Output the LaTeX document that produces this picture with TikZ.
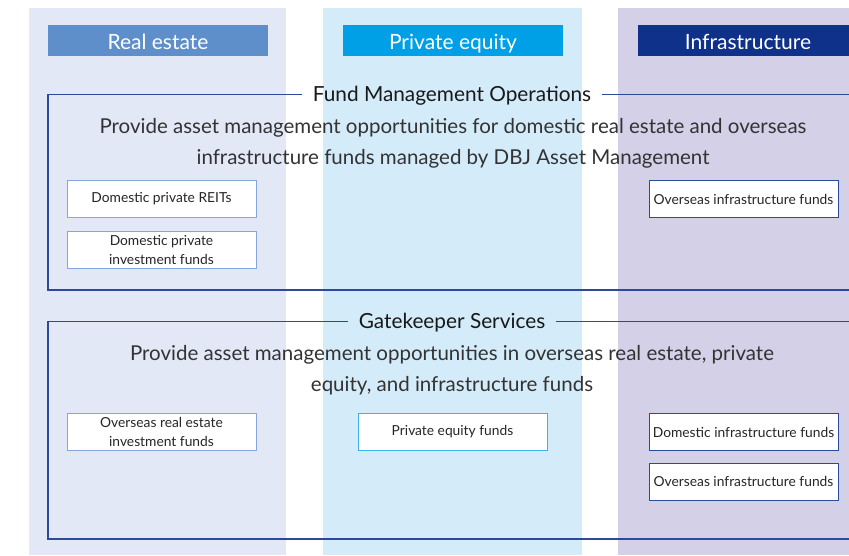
\documentclass[tikz,border=0pt]{standalone}
\usepackage{fontspec}
\setmainfont{Lato}
\usetikzlibrary{positioning}
\definecolor{realbg}{HTML}{E3E8F6}
\definecolor{equitybg}{HTML}{D4EBF9}
\definecolor{infrabg}{HTML}{D3D0E7}
\definecolor{realhead}{HTML}{5F8FCB}
\definecolor{equityhead}{HTML}{00A0E6}
\definecolor{infrahead}{HTML}{0F318A}
\definecolor{realline}{HTML}{84A8DC}
\definecolor{equityline}{HTML}{3FB0EA}
\definecolor{infraline}{HTML}{2E4A9C}
\definecolor{frameline}{HTML}{2C4A98}
\definecolor{bodytext}{HTML}{333333}

\begin{document}
\begin{tikzpicture}[x=1pt, y=-1pt, every node/.style={inner sep=0pt},
	header/.style={text=white, font=\fontsize{21}{24}\selectfont, minimum width=220pt, minimum height=31pt, text height=20pt, text depth=3pt},
	title/.style={text=black!90, font=\fontsize{20.8}{24}\selectfont, inner xsep=11pt, text height=15pt, text depth=2pt},
	body/.style={text=bodytext, align=center, font=\fontsize{20.5}{31}\selectfont},
	fundbox/.style={draw, fill=white, line width=0.9pt, minimum width=189pt, minimum height=37pt, align=center, text=black!85, font=\fontsize{13.8}{19}\selectfont},
	frame/.style={draw=frameline, line width=1.2pt}]

	\useasboundingbox (0,0) rectangle (849,555);

	\fill [realbg] (29,8) rectangle (286,555);
	\fill [equitybg] (323,8) rectangle (582,555);
	\fill [infrabg] (618,8) rectangle (849,555);

	\node [header, fill=realhead] (RE) at (158,40.5) {Real estate};
	\node [header, fill=equityhead] (PE) at (453,40.5) {Private equity};
	\node [header, fill=infrahead] (IN) at (748,40.5) {Infrastructure};

	\node [title] (FMO) at (452,94.5) {Fund Management Operations};
	\draw [frame] (FMO.west) -- (48,94.5) |- (849,290);
	\draw [frame] (FMO.east) -- (849,94.5);
	\node [body] (FMOtext) at (453,143.5)
	{Provide asset management opportunities for domestic real estate and overseas \\
	 infrastructure funds managed by DBJ Asset Management};

	\node [fundbox, draw=realline] (DPR) at (161.5,198.5) {Domestic private REITs};
	\node [fundbox, draw=realline, below=14pt of DPR] (DPIF) {Domestic private \\ investment funds};
	\node [fundbox, draw=infraline] (OIF) at (743.5,199) {Overseas infrastructure funds};

	\node [title] (GKS) at (452,321.5) {Gatekeeper Services};
	\draw [frame] (GKS.west) -- (48,321.5) |- (849,539);
	\draw [frame] (GKS.east) -- (849,321.5);
	\node [body] (GKStext) at (452,370.5)
	{Provide asset management opportunities in overseas real estate, private \\
	 equity, and infrastructure funds};

	\node [fundbox, draw=realline] (OREIF) at (161.5,432) {Overseas real estate \\ investment funds};
	\node [fundbox, draw=equityline] (PEF) at (452.5,432) {Private equity funds};
	\node [fundbox, draw=infraline] (DIF) at (743.5,432) {Domestic infrastructure funds};
	\node [fundbox, draw=infraline, below=12pt of DIF] (OIF2) {Overseas infrastructure funds};

\end{tikzpicture}
\end{document}
